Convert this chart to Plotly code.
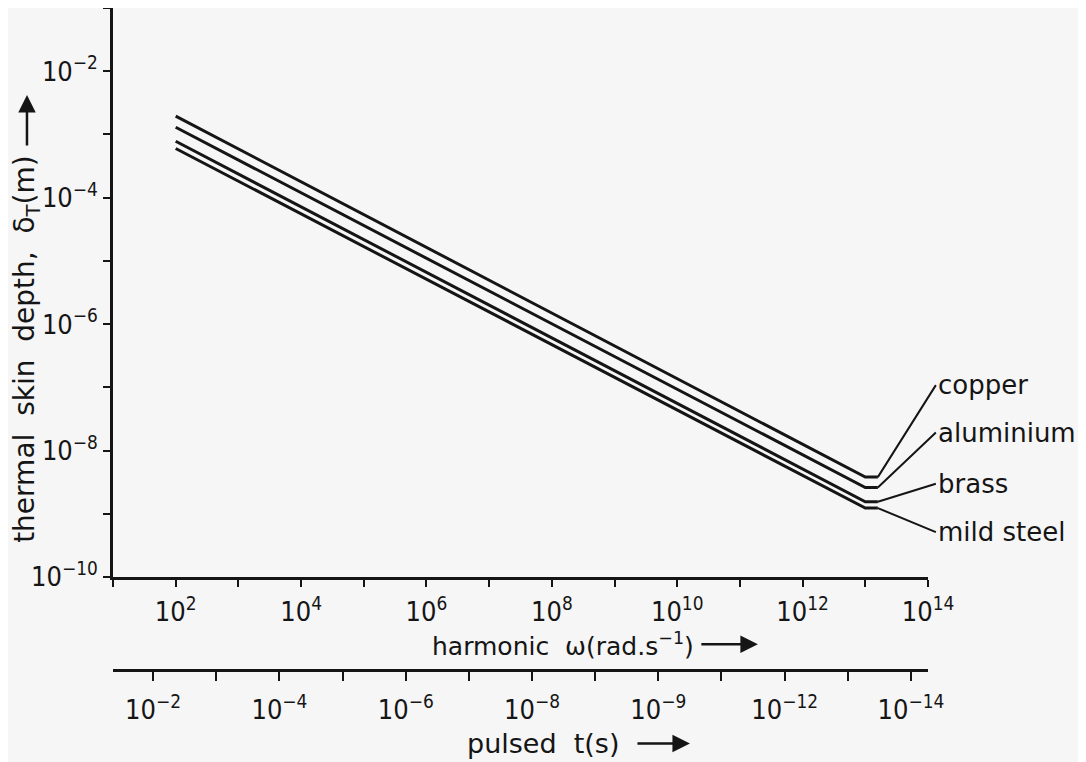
import numpy as np
import plotly.graph_objects as go

# ---- data ----
omega = [1e2, 1e13]                       # harmonic angular frequency (rad/s)
copper = [1.95e-3, 3.8e-9]                # thermal skin depth (m)
aluminium = [1.3e-3, 2.6e-9]
brass = [7.8e-4, 1.55e-9]
mild_steel = [6.0e-4, 1.23e-9]
series_names = ["copper", "aluminium", "brass", "mild steel"]
series_values = [copper, aluminium, brass, mild_steel]

x_tick_vals = [10.0 ** k for k in range(1, 15)]
x_tick_text = ["" if k % 2 else "10<sup>%d</sup>" % k for k in range(1, 15)]
y_tick_vals = [10.0 ** -k for k in range(1, 11)]
y_tick_text = ["10<sup>−%d</sup>" % k if (k % 2 == 0) else "" for k in range(1, 11)]
t_tick_vals = [10.0 ** -k for k in range(2, 15)]
t_tick_labels = {2: "10<sup>−2</sup>", 4: "10<sup>−4</sup>", 6: "10<sup>−6</sup>",
                 8: "10<sup>−8</sup>", 10: "10<sup>−9</sup>", 12: "10<sup>−12</sup>",
                 14: "10<sup>−14</sup>"}
t_tick_text = [t_tick_labels.get(k, "") for k in range(2, 15)]

# ---- style ----
FONT_T = "DejaVu Sans Condensed, DejaVu Sans, sans-serif"
FONT = "DejaVu Sans, sans-serif"
INK = "#151515"
BG = "#f6f6f6"
STUB_DEC = 0.2
label_offsets = [(58, -92), (58, -55), (58, -18), (58, 24)]

fig = go.Figure()
for name, vals in zip(series_names, series_values):
    xs = list(omega) + [omega[-1] * 10 ** STUB_DEC]
    ys = list(vals) + [vals[-1]]
    fig.add_trace(go.Scatter(x=xs, y=ys, mode="lines", name=name,
                             line=dict(color=INK, width=3), showlegend=False,
                             hoverinfo="skip"))
# invisible trace to create the pulsed-time axis
fig.add_trace(go.Scatter(x=[t_tick_vals[0]], y=[copper[0]], xaxis="x2", yaxis="y",
                         mode="markers", marker=dict(opacity=0), showlegend=False,
                         hoverinfo="skip"))

annotations = []
for (name, vals), (ax, ay) in zip(zip(series_names, series_values), label_offsets):
    annotations.append(dict(
        x=np.log10(omega[-1]) + STUB_DEC, y=np.log10(vals[-1]), xref="x", yref="y",
        text=name, showarrow=True, arrowhead=0, arrowwidth=2, arrowcolor=INK,
        ax=ax, ay=ay, xanchor="left", yanchor="middle",
        font=dict(family=FONT, size=26, color=INK)))

annotations += [
    dict(text="thermal  skin  depth,  δ<sub>T</sub>(m)", textangle=-90,
         xref="paper", yref="paper", x=-0.1015, y=0.189, xanchor="center",
         yanchor="bottom", showarrow=False, font=dict(family=FONT, size=28, color=INK)),
    dict(text="harmonic  ω(rad.s<sup>−1</sup>)", xref="paper", yref="paper",
         x=0.391, y=0.039, xanchor="left", yanchor="middle", showarrow=False,
         font=dict(family=FONT, size=25, color=INK)),
    dict(text="pulsed  t(s)", xref="paper", yref="paper",
         x=0.434, y=-0.111, xanchor="left", yanchor="middle", showarrow=False,
         font=dict(family=FONT, size=27, color=INK)),
    # direction arrows
    dict(x=-0.1015, y=0.8686, xref="paper", yref="paper", ax=0, ay=52, text="",
         showarrow=True, arrowhead=2, arrowsize=1.4, arrowwidth=2.5, arrowcolor=INK),
    dict(x=0.792, y=0.039, xref="paper", yref="paper", ax=-58, ay=0, text="",
         showarrow=True, arrowhead=2, arrowsize=1.4, arrowwidth=2.5, arrowcolor=INK),
    dict(x=0.709, y=-0.111, xref="paper", yref="paper", ax=-54, ay=0, text="",
         showarrow=True, arrowhead=2, arrowsize=1.4, arrowwidth=2.5, arrowcolor=INK),
]

axis_common = dict(showgrid=False, zeroline=False, showline=True, linecolor=INK,
                   linewidth=2.5, ticks="outside", tickwidth=2,
                   tickcolor=INK, tickfont=dict(family=FONT_T, size=27, color=INK),
                   mirror=False)

fig.update_layout(
    width=1078, height=754,
    margin=dict(l=102, r=158, t=0, b=92),
    paper_bgcolor=BG, plot_bgcolor=BG,
    font=dict(family=FONT, color=INK),
    annotations=annotations,
    xaxis=dict(type="log", range=[1, 14], domain=[3 / 818, 1], anchor="y",
               tickmode="array", tickvals=x_tick_vals, ticktext=x_tick_text,
               ticklen=7, ticklabelstandoff=2, **axis_common),
    xaxis2=dict(type="log", range=[-1.365, -14.27], domain=[0, 813 / 818],
                overlaying="x", anchor="free", position=0, side="bottom",
                tickmode="array", tickvals=t_tick_vals, ticktext=t_tick_text,
                ticklen=9, ticklabelstandoff=6, **axis_common),
    yaxis=dict(type="log", range=[-10, -1], domain=[93 / 662, 1], anchor="x",
               tickmode="array", tickvals=y_tick_vals, ticktext=y_tick_text,
               ticklen=7, **axis_common),
)

fig.write_html("out.html")
